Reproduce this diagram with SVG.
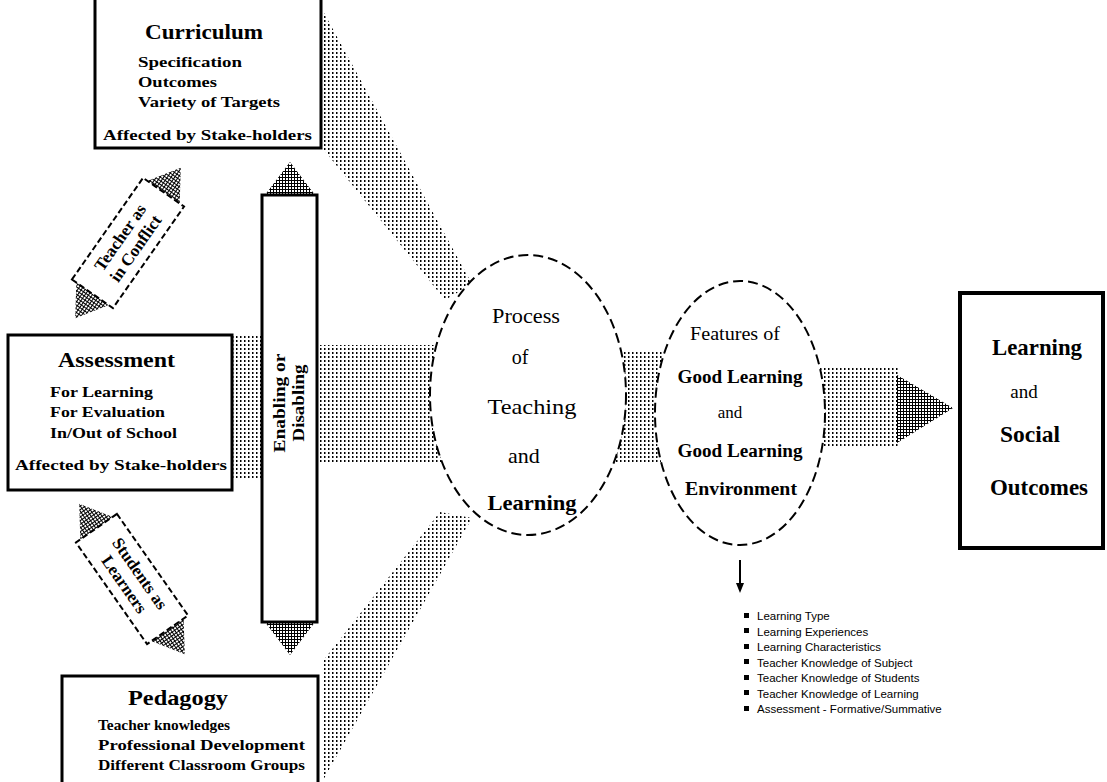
<svg xmlns="http://www.w3.org/2000/svg" width="1107" height="782" viewBox="0 0 1107 782">
<style>
.box{fill:#fff;stroke:#000;stroke-width:3}
.ell{fill:#fff;stroke:#000;stroke-width:2;stroke-dasharray:10 5}
.tilt{fill:#fff;stroke:#000;stroke-width:2;stroke-dasharray:6 3}
.dots{fill:url(#dots)}
.hatch{fill:url(#hatch)}
.t{font-family:"Liberation Serif","Times New Roman",serif;fill:#000}
.b{font-weight:bold}
.title{font-size:21px;font-weight:bold}
.item{font-size:15px;font-weight:bold}
.ls{font-family:"Liberation Sans",Arial,sans-serif;font-size:11.5px;fill:#000}
</style>
<defs>
<pattern id="dots" width="4" height="4" patternUnits="userSpaceOnUse"><rect x="0" y="0" width="1.5" height="2" fill="#000"/></pattern>
<pattern id="hatch" width="3" height="3" patternUnits="userSpaceOnUse"><rect width="3" height="3" fill="#fff"/><path d="M0 0.5H3M0.5 0V3" stroke="#000" stroke-width="1"/></pattern>
</defs>
<rect width="1107" height="782" fill="#fff"/>

<g id="connectors">
<polygon class="dots" points="324,13 472,284 445,300 324,150"/>
<rect class="dots" x="232" y="335" width="30" height="143"/>
<rect class="dots" x="318" y="345" width="125" height="117"/>
<polygon class="dots" points="322,662 440,512 472,518 322,782"/>
<rect class="dots" x="615" y="350" width="50" height="112"/>
<rect class="dots" x="818" y="368" width="82" height="78"/>
<polygon class="hatch" points="897,375 953,408 897,443"/>
<line x1="740" y1="560" x2="740" y2="584" stroke="#000" stroke-width="2"/>
<polygon points="736,583 744,583 740,593" fill="#000"/>
</g>

<g id="curriculum">
<rect class="box" x="95" y="-5" width="226" height="153"/>
<text class="t title" x="145" y="39" textLength="118" lengthAdjust="spacingAndGlyphs">Curriculum</text>
<text class="t item" x="138" y="67" textLength="104" lengthAdjust="spacingAndGlyphs">Specification</text>
<text class="t item" x="138" y="87" textLength="79" lengthAdjust="spacingAndGlyphs">Outcomes</text>
<text class="t item" x="138" y="107" textLength="142" lengthAdjust="spacingAndGlyphs">Variety of Targets</text>
<text class="t item" x="103" y="140" textLength="209" lengthAdjust="spacingAndGlyphs">Affected by Stake-holders</text>
</g>

<g id="assessment">
<rect class="box" x="8" y="335" width="224" height="155"/>
<text class="t title" x="58" y="367" textLength="117" lengthAdjust="spacingAndGlyphs">Assessment</text>
<text class="t item" x="50" y="397" textLength="103" lengthAdjust="spacingAndGlyphs">For Learning</text>
<text class="t item" x="50" y="417" textLength="115" lengthAdjust="spacingAndGlyphs">For Evaluation</text>
<text class="t item" x="50" y="438" textLength="127" lengthAdjust="spacingAndGlyphs">In/Out of School</text>
<text class="t item" x="15" y="470" textLength="212" lengthAdjust="spacingAndGlyphs">Affected by Stake-holders</text>
</g>

<g id="pedagogy">
<rect class="box" x="62" y="676" width="256" height="115"/>
<text class="t title" x="128" y="705" textLength="100" lengthAdjust="spacingAndGlyphs">Pedagogy</text>
<text class="t item" x="98" y="730" textLength="132" lengthAdjust="spacingAndGlyphs">Teacher knowledges</text>
<text class="t item" x="98" y="750" textLength="207" lengthAdjust="spacingAndGlyphs">Professional Development</text>
<text class="t item" x="98" y="770" textLength="207" lengthAdjust="spacingAndGlyphs">Different Classroom Groups</text>
</g>

<g id="enabling-bar">
<polygon class="hatch" points="265,195 290,162 315,195"/>
<polygon class="hatch" points="265,622 290,655 315,622"/>
<rect class="box" x="262" y="195" width="55" height="427"/>
<g transform="translate(290,403) rotate(-90)">
<text class="t b" x="0" y="-5" font-size="17" text-anchor="middle" textLength="99" lengthAdjust="spacingAndGlyphs">Enabling or</text>
<text class="t b" x="0" y="14" font-size="17" text-anchor="middle" textLength="77" lengthAdjust="spacingAndGlyphs">Disabling</text>
</g>
</g>

<g id="teacher-tilt" transform="translate(128,243) rotate(-55)">
<polygon class="hatch" points="60,-21 92,0 60,21"/>
<polygon class="hatch" points="-60,-21 -92,0 -60,21"/>
<rect class="tilt" x="-62" y="-25" width="124" height="50"/>
<text class="t b" x="0" y="-4" font-size="17" text-anchor="middle">Teacher as</text>
<text class="t b" x="0" y="15" font-size="17" text-anchor="middle">in Conflict</text>
</g>

<g id="student-tilt" transform="translate(132,579) rotate(55)">
<polygon class="hatch" points="60,-21 92,0 60,21"/>
<polygon class="hatch" points="-60,-21 -92,0 -60,21"/>
<rect class="tilt" x="-62" y="-25" width="124" height="50"/>
<text class="t b" x="0" y="-4" font-size="17" text-anchor="middle">Students as</text>
<text class="t b" x="0" y="15" font-size="17" text-anchor="middle">Learners</text>
</g>

<g id="process">
<ellipse class="ell" cx="528" cy="395" rx="98" ry="140"/>
<text class="t" x="526" y="323" font-size="20" text-anchor="middle" fill="#333" textLength="68" lengthAdjust="spacingAndGlyphs">Process</text>
<text class="t" x="520" y="364" font-size="20" text-anchor="middle" fill="#333">of</text>
<text class="t" x="532" y="414" font-size="22" text-anchor="middle" textLength="89" lengthAdjust="spacingAndGlyphs">Teaching</text>
<text class="t" x="524" y="463" font-size="22" text-anchor="middle">and</text>
<text class="t b" x="532" y="510" font-size="22" text-anchor="middle" textLength="89" lengthAdjust="spacingAndGlyphs">Learning</text>
</g>

<g id="features">
<ellipse class="ell" cx="740" cy="413" rx="85" ry="132"/>
<text class="t" x="735" y="340" font-size="19" text-anchor="middle" textLength="90" lengthAdjust="spacingAndGlyphs">Features of</text>
<text class="t b" x="740" y="383" font-size="18" text-anchor="middle" textLength="125" lengthAdjust="spacingAndGlyphs">Good Learning</text>
<text class="t" x="730" y="418" font-size="17" text-anchor="middle">and</text>
<text class="t b" x="740" y="457" font-size="18" text-anchor="middle" textLength="125" lengthAdjust="spacingAndGlyphs">Good Learning</text>
<text class="t b" x="741" y="495" font-size="18" text-anchor="middle" textLength="112" lengthAdjust="spacingAndGlyphs">Environment</text>
</g>

<g id="outcomes">
<rect class="box" x="960" y="293" width="143" height="255" style="stroke-width:4"/>
<text class="t b" x="1037" y="355" font-size="23" text-anchor="middle" textLength="90" lengthAdjust="spacingAndGlyphs">Learning</text>
<text class="t" x="1024" y="398" font-size="19" text-anchor="middle">and</text>
<text class="t b" x="1030" y="442" font-size="23" text-anchor="middle" textLength="60" lengthAdjust="spacingAndGlyphs">Social</text>
<text class="t b" x="1039" y="495" font-size="23" text-anchor="middle" textLength="98" lengthAdjust="spacingAndGlyphs">Outcomes</text>
</g>

<g id="feature-list">
<g fill="#000">
<rect x="744" y="613" width="5" height="5"/>
<rect x="744" y="628" width="5" height="5"/>
<rect x="744" y="644" width="5" height="5"/>
<rect x="744" y="659" width="5" height="5"/>
<rect x="744" y="675" width="5" height="5"/>
<rect x="744" y="690" width="5" height="5"/>
<rect x="744" y="706" width="5" height="5"/>
</g>
<text class="ls" x="757" y="620">Learning Type</text>
<text class="ls" x="757" y="635.5">Learning Experiences</text>
<text class="ls" x="757" y="651">Learning Characteristics</text>
<text class="ls" x="757" y="666.5">Teacher Knowledge of Subject</text>
<text class="ls" x="757" y="682">Teacher Knowledge of Students</text>
<text class="ls" x="757" y="697.5">Teacher Knowledge of Learning</text>
<text class="ls" x="757" y="713">Assessment - Formative/Summative</text>
</g>
</svg>
